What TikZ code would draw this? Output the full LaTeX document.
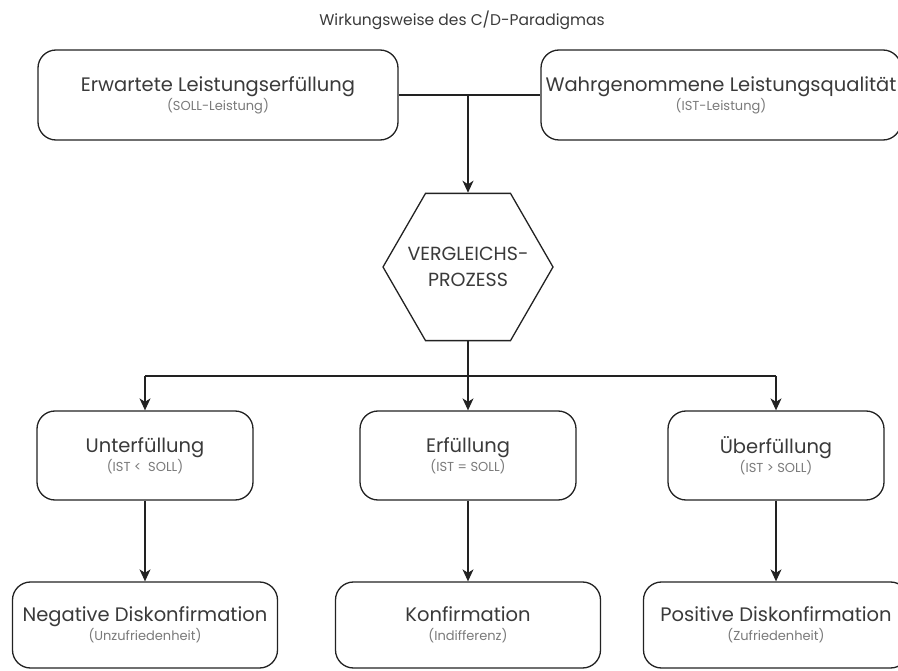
\documentclass[tikz,border=0pt]{standalone}
\usepackage{fontspec}
\setmainfont{Poppins}
\usetikzlibrary{shapes.geometric,arrows.meta}
\definecolor{linec}{HTML}{222222}
\definecolor{maintxt}{HTML}{3A3A3A}
\definecolor{subtxt}{HTML}{7A7A7A}
\newcommand{\subfs}{\fontsize{13}{14}\selectfont}
\newcommand{\lbl}[2]{#1\\{\subfs\color{subtxt}#2}}
\begin{document}
\begin{tikzpicture}[x=1pt,y=-1pt,
  box/.style={draw=linec, line width=1.3pt, rounded corners=18pt, fill=white,
              align=center, inner sep=0pt, text=maintxt,
              font=\fontsize{19.5}{19}\selectfont},
  topbox/.style={box, minimum width=360pt, minimum height=90pt},
  midbox/.style={box, minimum width=216pt, minimum height=89pt},
  botbox/.style={box, minimum width=265pt, minimum height=86pt},
  hexbox/.style={draw=linec, line width=1.3pt, fill=white, regular polygon,
                 regular polygon sides=6, minimum size=170pt, inner sep=0pt},
  hextext/.style={align=center, inner sep=0pt, font=\fontsize{19}{26}\selectfont, text=maintxt},
  conn/.style={draw=linec, line width=1.3pt},
  arr/.style={conn, -{Stealth[length=12pt, width=11pt, inset=3.5pt]}}
]
\useasboundingbox (0,0) rectangle (898,671);
\begin{scope}
\clip (0,0) rectangle (898,671);

\node[font=\fontsize{15.5}{18}\selectfont, text=maintxt] (title) at (462,20) {Wirkungsweise des C/D-Paradigmas};

\node[topbox] (tl) at (218,95) {\lbl{Erwartete Leistungserfüllung}{(SOLL-Leistung)}};
\node[topbox] (tr) at (721,95) {\lbl{Wahrgenommene Leistungsqualität}{(IST-Leistung)}};

\node[hexbox] (hex) at (468,267) {};
\node[hextext] (hext) at (hex.center) {VERGLEICHS-\\PROZESS};

\node[midbox] (m1) at (145,455.5) {\lbl{Unterfüllung}{(IST <\ \ SOLL)}};
\node[midbox] (m2) at (468,455.5) {\lbl{Erfüllung}{(IST = SOLL)}};
\node[midbox] (m3) at (776,455.5) {\lbl{Überfüllung}{(IST > SOLL)}};

\node[botbox] (b1) at (145,625) {\lbl{Negative Diskonfirmation}{(Unzufriedenheit)}};
\node[botbox] (b2) at (468,625) {\lbl{Konfirmation}{(Indifferenz)}};
\node[botbox] (b3) at (776,625) {\lbl{Positive Diskonfirmation}{(Zufriedenheit)}};

\coordinate (j1) at (hex.north |- tl.east);
\coordinate (j2) at (468,376);

\draw[conn] (tl.east) -- (tr.west);
\draw[arr] (j1) -- (hex.north);
\draw[conn] (hex.south) -- (j2);
\draw[conn] (m1.north |- j2) -- (m3.north |- j2);
\draw[arr] (m1.north |- j2) -- (m1.north);
\draw[arr] (j2) -- (m2.north);
\draw[arr] (m3.north |- j2) -- (m3.north);
\draw[arr] (m1.south) -- (b1.north);
\draw[arr] (m2.south) -- (b2.north);
\draw[arr] (m3.south) -- (b3.north);
\end{scope}
\end{tikzpicture}
\end{document}
